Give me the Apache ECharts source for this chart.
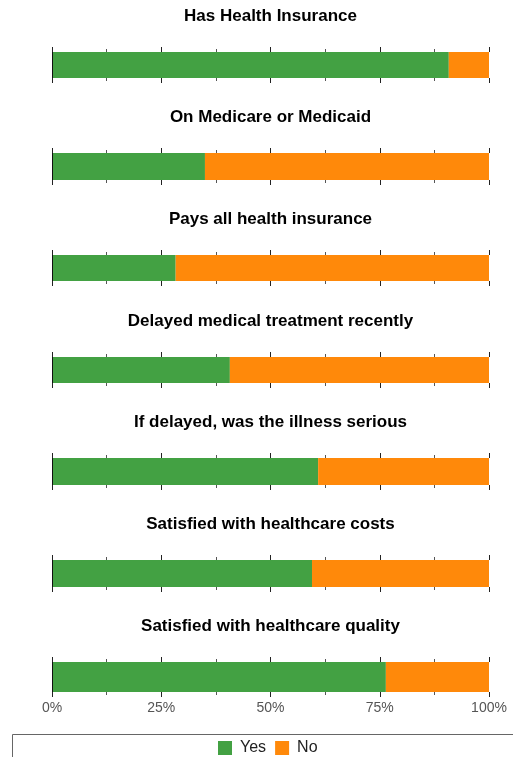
<!DOCTYPE html>
<html>
<head>
<meta charset="utf-8">
<script src="https://cdn.jsdelivr.net/npm/echarts@6/dist/echarts.min.js"></script>
<style>html,body{margin:0;padding:0;background:#fff;}#c{width:513px;height:757px;}</style>
</head>
<body>
<div id="c"></div>
<script>
var categories = [
  'Has Health Insurance',
  'On Medicare or Medicaid',
  'Pays all health insurance',
  'Delayed medical treatment recently',
  'If delayed, was the illness serious',
  'Satisfied with healthcare costs',
  'Satisfied with healthcare quality'
];
var yesValues = [90.8, 35.0, 28.3, 40.7, 60.9, 59.5, 76.4];
var noValues = [9.2, 65.0, 71.7, 59.3, 39.1, 40.5, 23.6];
var tickLabels = ['0%', '25%', '50%', '75%', '100%'];
var seriesNames = ['Yes', 'No'];

var GREEN = '#43a143', ORANGE = '#ff890a';
var gridTops = [52, 153, 255, 357, 458, 560, 662];
var gridHeights = [26, 27, 26, 26, 27, 27, 30];
var FONT = '"Liberation Sans", Arial, sans-serif';

var grids = [], xAxes = [], yAxes = [], series = [], titles = [];
categories.forEach(function (cat, i) {
  var last = i === categories.length - 1;
  grids.push({left: 52, right: 24, top: gridTops[i], height: gridHeights[i], containLabel: false});
  titles.push({
    text: cat, left: 270.5, textAlign: 'center', top: gridTops[i] - 46, padding: 0,
    textStyle: {fontFamily: FONT, fontSize: 17, fontWeight: 'bold', color: '#000', lineHeight: 20}
  });
  ['bottom', 'top'].forEach(function (pos) {
    xAxes.push({
      type: 'value', gridIndex: i, position: pos, min: 0, max: 100, interval: 25,
      axisLine: {show: false},
      axisTick: {show: true, length: 5, inside: false, lineStyle: {color: '#222', width: 1}},
      minorTick: {show: true, splitNumber: 2, length: 3, lineStyle: {color: '#555', width: 1}},
      splitLine: {show: false},
      axisLabel: {
        show: last && pos === 'bottom', margin: 9, fontFamily: FONT, fontSize: 14, color: '#555',
        formatter: function (v) { return tickLabels[Math.round(v / 25)]; }
      }
    });
  });
  yAxes.push({
    type: 'category', gridIndex: i, data: [cat], position: 'left', z: 5,
    axisLine: {show: true, lineStyle: {color: '#555', width: 1}},
    axisTick: {show: false}, axisLabel: {show: false}, splitLine: {show: false}
  });
  yAxes.push({
    type: 'category', gridIndex: i, data: [cat], position: 'right', z: 5,
    axisLine: {show: true, lineStyle: {color: '#111', width: 1}},
    axisTick: {show: false}, axisLabel: {show: false}, splitLine: {show: false}
  });
  series.push({
    name: seriesNames[0], type: 'bar', stack: 's' + i, xAxisIndex: 2 * i, yAxisIndex: 2 * i,
    barWidth: '100%', data: [yesValues[i]], itemStyle: {color: GREEN}, silent: true
  });
  series.push({
    name: seriesNames[1], type: 'bar', stack: 's' + i, xAxisIndex: 2 * i, yAxisIndex: 2 * i,
    barWidth: '100%', data: [noValues[i]], itemStyle: {color: ORANGE}, silent: true
  });
});

var chart = echarts.init(document.getElementById('c'), null, {renderer: 'canvas'});
chart.setOption({
  animation: false,
  backgroundColor: '#fff',
  title: titles,
  grid: grids,
  xAxis: xAxes,
  yAxis: yAxes,
  series: series,
  legend: {
    data: seriesNames, left: 218, top: 740, padding: 0, icon: 'rect', itemWidth: 14, itemHeight: 14, itemGap: 9,
    textStyle: {fontFamily: FONT, fontSize: 16, color: '#222', padding: [0, 0, 0, 3]},
    selectedMode: false
  },
  graphic: [{
    type: 'polyline', silent: true,
    shape: {points: [[12.5, 760], [12.5, 734.5], [515, 734.5]]},
    style: {stroke: '#666', lineWidth: 1, fill: null}
  }]
});
</script>
</body>
</html>
